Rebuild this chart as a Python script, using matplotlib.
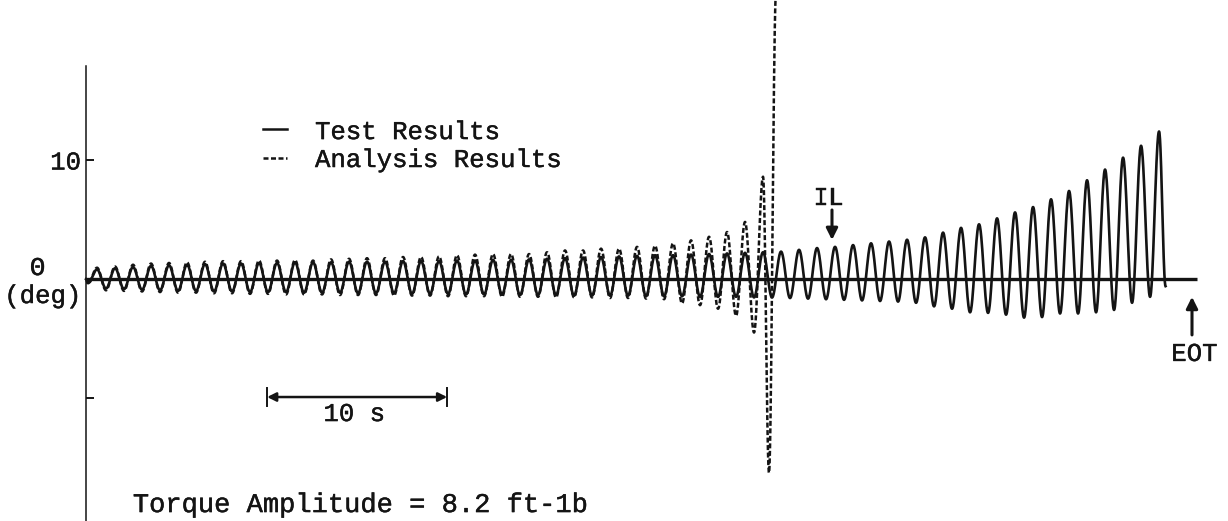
import numpy as np
import matplotlib
matplotlib.use("Agg")
import matplotlib.pyplot as plt
import matplotlib.patheffects as pe

# Oscillation period (s) and time of the first positive peak (s)
PERIOD = 1.0
FIRST_PEAK = 0.61

# Test results: positive peaks and the trough preceding each peak (deg)
test_peaks = [
    0.8, 0.9, 1.0, 1.1, 1.15, 1.2, 1.25, 1.3, 1.3, 1.35,
    1.35, 1.4, 1.4, 1.4, 1.45, 1.45, 1.45, 1.5, 1.5, 1.5,
    1.55, 1.55, 1.6, 1.6, 1.65, 1.7, 1.75, 1.8, 1.85, 1.9,
    1.95, 2.0, 2.0, 2.05, 2.1, 2.15, 2.2, 2.25, 2.3, 2.45,
    2.6, 2.7, 2.85, 3.0, 3.15, 3.3, 3.5, 3.9, 4.3, 4.6,
    5.1, 5.6, 6.05, 6.7, 7.4, 8.3, 9.2, 10.2, 11.2, 12.4,
]
test_troughs = [
    -0.35,
    -0.8, -0.85, -0.9, -0.95, -1.0, -1.0, -1.05, -1.05, -1.1, -1.1,
    -1.1, -1.15, -1.15, -1.15, -1.2, -1.2, -1.2, -1.25, -1.25, -1.25,
    -1.3, -1.3, -1.3, -1.35, -1.35, -1.35, -1.4, -1.4, -1.4, -1.4,
    -1.45, -1.45, -1.45, -1.5, -1.5, -1.5, -1.55, -1.55, -1.6, -1.65,
    -1.7, -1.75, -1.8, -1.85, -1.9,
    -2.0, -2.3, -2.5, -2.8, -2.85, -3.0, -3.25, -3.2, -2.9, -2.9,
    -2.8, -2.6, -2.0, -1.5,
]
test_start = (0.0, 0.0)
test_end = (59.97, -0.6)

# Analysis results (same layout) until the response diverges
analysis_peaks = [
    0.95, 1.05, 1.2, 1.3, 1.35, 1.4, 1.45, 1.5, 1.5, 1.55, 1.55, 1.6,
    1.55, 1.65, 1.7, 1.75, 1.75, 1.85, 1.85, 1.9, 2.0, 2.05, 2.1, 2.1,
    2.1, 2.25, 2.4, 2.4, 2.55, 2.55, 2.7, 2.8, 3.0, 3.25, 3.55, 3.95, 4.8, 8.6,
]
analysis_troughs = [
    -0.4,
    -0.95, -1.0, -1.05, -1.1, -1.15, -1.15, -1.2, -1.2, -1.25, -1.25,
    -1.3, -1.3, -1.3, -1.35, -1.35, -1.35, -1.4, -1.4, -1.4, -1.45,
    -1.45, -1.45, -1.5, -1.5, -1.5, -1.55, -1.55, -1.55, -1.6, -1.6,
    -1.65, -1.7, -2.05, -2.2, -2.5, -3.1, -4.5,
]
analysis_start = (0.0, 0.0)
analysis_tail_t = [37.94, 38.33]
analysis_tail = [-16.3, 24.0]

INK = "#141414"
FONT = "Liberation Mono"
FS = 18.5
DASH = (0, (2.0, 1.0))
HEAVY = [pe.withStroke(linewidth=0.3, foreground=INK)]


def extreme_sequence(start, peaks, troughs):
    t = [start[0]]
    y = [start[1]]
    for k, (p, q) in enumerate(zip(peaks, troughs)):
        t += [FIRST_PEAK + (k - 0.5) * PERIOD, FIRST_PEAK + k * PERIOD]
        y += [q, p]
    return t, y


def waveform(t_ext, y_ext, n=28):
    ts, ys = [], []
    for i in range(len(t_ext) - 1):
        s = np.linspace(0.0, 1.0, n, endpoint=False)
        w = (1.0 - np.cos(np.pi * s)) / 2.0
        ts.append(t_ext[i] + (t_ext[i + 1] - t_ext[i]) * s)
        ys.append(y_ext[i] + (y_ext[i + 1] - y_ext[i]) * w)
    ts.append([t_ext[-1]])
    ys.append([y_ext[-1]])
    return np.concatenate(ts), np.concatenate(ys)


fig = plt.figure(figsize=(12.28, 5.21), dpi=100)
ax = fig.add_axes([0, 0, 1, 1])
ax.set_xlim(-4.78, 63.44)
ax.set_ylim(-20.34, 23.45)

# zero line
ax.plot([0, 61.72], [0, 0], color=INK, lw=2.4, solid_capstyle="butt", zorder=3)

# analysis (dashed)
ta, ya = extreme_sequence(analysis_start, analysis_peaks, analysis_troughs)
ta += analysis_tail_t
ya += analysis_tail
xa, va = waveform(ta, ya)
ax.plot(xa, va, color=INK, lw=1.8, linestyle=DASH, zorder=2)

# test (solid)
tt, yt = extreme_sequence(test_start, test_peaks, test_troughs)
tt.append(test_end[0])
yt.append(test_end[1])
xt, vt = waveform(tt, yt)
ax.plot(xt, vt, color=INK, lw=1.9, zorder=4)

# axis
for side in ("top", "right", "bottom"):
    ax.spines[side].set_visible(False)
ax.spines["left"].set_position(("data", 0))
ax.spines["left"].set_bounds(-20.34, 17.9)
ax.spines["left"].set_linewidth(1.1)
ax.spines["left"].set_color(INK)
ax.set_xticks([])
ax.set_yticks([10, -10])
ax.set_yticklabels(["10", ""])
ax.tick_params(axis="y", direction="in", length=6, width=1.4, colors=INK, pad=3.5)
for lab in ax.get_yticklabels():
    lab.set_fontfamily(FONT)
    lab.set_fontsize(FS)
    lab.set_path_effects(HEAVY)

text_kw = dict(family=FONT, fontsize=FS, color=INK, path_effects=HEAVY)
ax.text(-2.69, 0.92, "Θ", ha="center", va="center", **text_kw)
ax.text(-2.39, -1.43, "(deg)", ha="center", va="center", **text_kw)

# legend
ax.plot([9.83, 11.17], [12.6, 12.6], color=INK, lw=1.8)
ax.plot([9.83, 11.17], [10.17, 10.17], color=INK, lw=1.8, linestyle=DASH)
ax.text(12.72, 12.35, "Test Results", ha="left", va="center", **text_kw)
ax.text(12.72, 10.0, "Analysis Results", ha="left", va="center", **text_kw)

# markers
ax.text(41.25, 6.85, "IL", ha="center", va="center", **text_kw)
ax.annotate("", xy=(41.44, 3.28), xytext=(41.44, 5.8),
            arrowprops=dict(arrowstyle="-|>", color=INK, lw=2.2, mutation_scale=17,
                            shrinkA=0, shrinkB=0))
ax.text(61.58, -6.3, "EOT", ha="center", va="center", **text_kw)
ax.annotate("", xy=(61.44, -1.5), xytext=(61.44, -4.7),
            arrowprops=dict(arrowstyle="-|>", color=INK, lw=2.2, mutation_scale=17,
                            shrinkA=0, shrinkB=0))

# time scale bar
bar_start, bar_len, bar_y = 10.06, 10.0, -9.92
ax.annotate("", xy=(bar_start, bar_y), xytext=(bar_start + bar_len, bar_y),
            arrowprops=dict(arrowstyle="<|-|>", color=INK, lw=1.8, mutation_scale=13,
                            shrinkA=0, shrinkB=0))
for xe in (bar_start, bar_start + bar_len):
    ax.plot([xe, xe], [bar_y - 0.75, bar_y + 0.75], color=INK, lw=1.4)
ax.text(bar_start + bar_len / 2 - 0.15, -11.35, "10 s", ha="center", va="center", **text_kw)

ax.text(2.6, -19.0, "Torque Amplitude = 8.2 ft-1b", ha="left", va="center",
        family=FONT, fontsize=19.5, color=INK, path_effects=HEAVY)

fig.savefig("out.png", dpi=100, facecolor="white")
